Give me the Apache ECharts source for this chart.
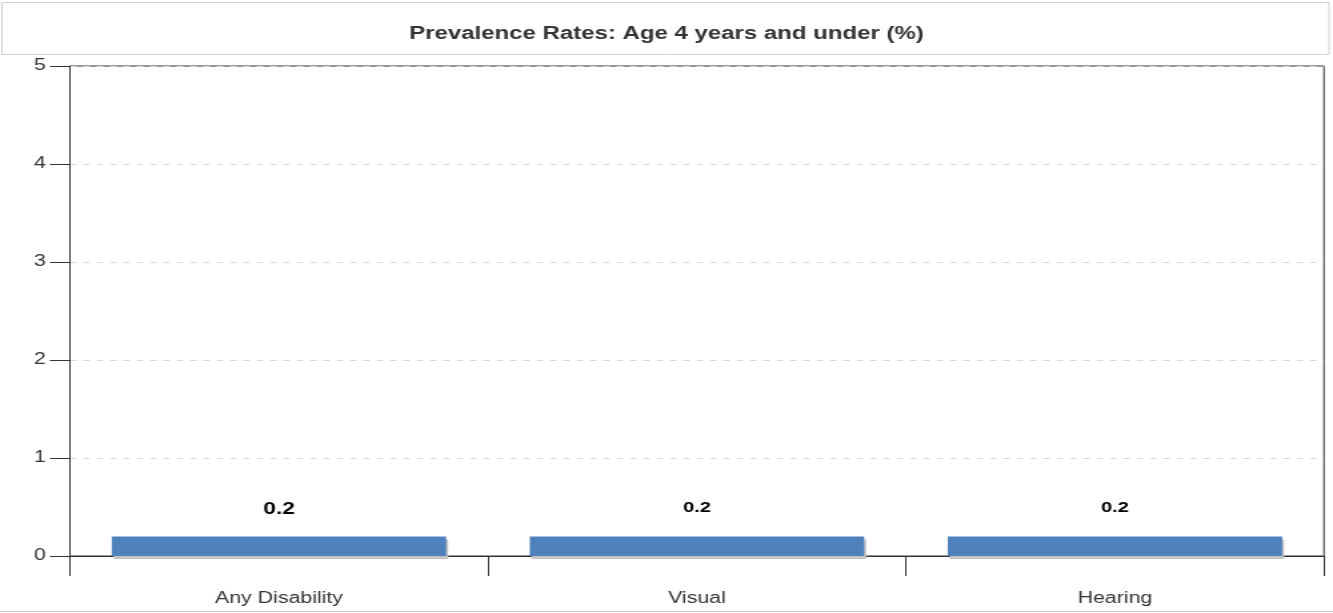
<!DOCTYPE html>
<html>
<head>
<meta charset="utf-8">
<script src="https://cdn.jsdelivr.net/npm/echarts@6/dist/echarts.min.js"></script>
<style>
html,body{margin:0;padding:0;background:#fff;overflow:hidden;}
#chart{width:1000px;height:613px;transform:scaleX(1.333);transform-origin:0 0;}
</style>
</head>
<body>
<div id="chart"></div>
<script>
const titleText = "Prevalence Rates: Age 4 years and under (%)";
const categories = ["Any Disability", "Visual", "Hearing"];
const values = [0.2, 0.2, 0.2];
const yTicks = [0, 1, 2, 3, 4, 5];

const chart = echarts.init(document.getElementById('chart'), null, {renderer: 'canvas'});
const font = '"Liberation Sans", Arial, sans-serif';

const option = {
  animation: false,
  backgroundColor: '#fff',
  title: {
    text: titleText,
    left: 'center',
    top: 20,
    textStyle: {fontFamily: font, fontSize: 18, fontWeight: 'bold', color: '#333'}
  },
  graphic: [
    {type: 'rect', shape: {x: 1.5, y: 2.5, width: 995.5, height: 52}, style: {fill: 'none', stroke: '#d0d0d0', lineWidth: 1}, z: -1},
    {type: 'line', shape: {x1: 0, y1: 611.5, x2: 1000, y2: 611.5}, style: {stroke: '#c8c8c8', lineWidth: 1}}
  ],
  grid: {
    left: 52.5, right: 6.8, top: 66, bottom: 57,
    show: true, borderColor: '#333', borderWidth: 1, backgroundColor: 'transparent'
  },
  xAxis: {
    type: 'category',
    data: categories,
    boundaryGap: true,
    axisLine: {lineStyle: {color: '#333', width: 1}},
    axisTick: {show: true, length: 20, lineStyle: {color: '#333'}},
    axisLabel: {margin: 35, fontFamily: font, fontSize: 16, color: '#333'}
  },
  yAxis: {
    type: 'value',
    min: yTicks[0], max: yTicks[yTicks.length - 1], interval: 1,
    axisLine: {show: true, lineStyle: {color: '#333', width: 1}},
    axisTick: {show: true, length: 15, lineStyle: {color: '#333'}},
    axisLabel: {margin: 18, fontFamily: font, fontSize: 16, color: '#333'},
    splitLine: {show: true, lineStyle: {color: '#d8d8d8', type: [5, 5]}}
  },
  series: [{
    type: 'bar',
    data: values.map((v, i) => i === 0 ? {value: v, label: {fontSize: 17, distance: 19}} : v),
    barWidth: '80%',
    itemStyle: {
      color: '#4f81bd',
      shadowColor: '#c4c4c4', shadowOffsetX: 1.5, shadowOffsetY: 3, shadowBlur: 0
    },
    label: {
      show: true, position: 'top', distance: 21,
      fontFamily: font, fontSize: 15, fontWeight: 'bold', color: '#000',
      formatter: p => p.value.toFixed(1)
    }
  }]
};
chart.setOption(option);
</script>
</body>
</html>
